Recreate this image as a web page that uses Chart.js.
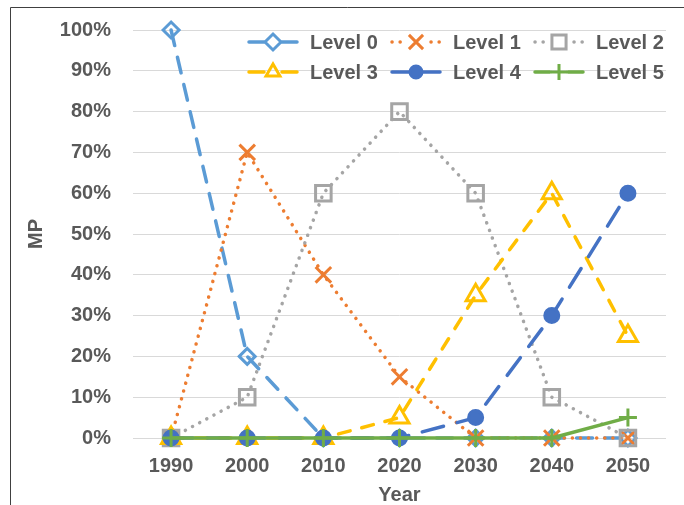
<!DOCTYPE html>
<html>
<head>
<meta charset="utf-8">
<script src="https://cdn.jsdelivr.net/npm/chart.js@4/dist/chart.umd.min.js"></script>
<style>
  html, body { margin: 0; padding: 0; background: #fff; }
  #wrap { width: 684px; height: 505px; }
</style>
</head>
<body>
<div id="wrap"><canvas id="c" width="684" height="505"></canvas></div>
<script>
// Years on the category axis
const years = ['1990', '2000', '2010', '2020', '2030', '2040', '2050'];

// Market penetration (%) for each automation level
const level0 = [100, 20, 0, 0, 0, 0, 0];
const level1 = [0, 70, 40, 15, 0, 0, 0];
const level2 = [0, 10, 60, 80, 60, 10, 0];
const level3 = [0, 0, 0, 5, 35, 60, 25];
const level4 = [0, 0, 0, 0, 5, 30, 60];
const level5 = [0, 0, 0, 0, 0, 0, 5];

const seriesNames = ['Level 0', 'Level 1', 'Level 2', 'Level 3', 'Level 4', 'Level 5'];
const yTicks = [0, 10, 20, 30, 40, 50, 60, 70, 80, 90, 100];

const FONT = '"Liberation Sans", Arial, sans-serif';
const TEXT = '#595959';

const styles = [
  { color: '#5B9BD5', dash: [16, 12], marker: 'rectRot', r: 8, fill: false },
  { color: '#ED7D31', dash: [0.1, 8], marker: 'crossRot', r: 11, fill: false },
  { color: '#A5A5A5', dash: [0.1, 8], marker: 'rect', r: 11, fill: false },
  { color: '#FFC000', dash: [12, 12], marker: 'triangle', r: 11, fill: false },
  { color: '#4472C4', dash: [22, 14], marker: 'circle', r: 7, fill: true },
  { color: '#70AD47', dash: [], marker: 'cross', r: 9, fill: false }
];
const values = [level0, level1, level2, level3, level4, level5];

const datasets = values.map((v, i) => ({
  label: seriesNames[i],
  data: v,
  borderColor: styles[i].color,
  backgroundColor: styles[i].color,
  borderWidth: 3.5,
  borderDash: styles[i].dash,
  borderCapStyle: 'round',
  borderJoinStyle: 'round',
  pointStyle: styles[i].marker,
  pointRadius: styles[i].r,
  pointHoverRadius: styles[i].r,
  pointBorderWidth: 3,
  pointBorderColor: styles[i].color,
  pointBackgroundColor: styles[i].fill ? styles[i].color : 'rgba(0,0,0,0)',
  tension: 0,
  fill: false,
  clip: false,
  order: 5 - i
}));

// Marker shapes for the legend swatches
function marker(ctx, shape, x, y, r) {
  ctx.beginPath();
  if (shape === 'circle') {
    ctx.arc(x, y, r, 0, Math.PI * 2);
  } else if (shape === 'rectRot') {
    ctx.moveTo(x, y - r); ctx.lineTo(x + r, y); ctx.lineTo(x, y + r); ctx.lineTo(x - r, y); ctx.closePath();
  } else if (shape === 'rect') {
    const s = r * Math.SQRT1_2;
    ctx.rect(x - s, y - s, 2 * s, 2 * s);
  } else if (shape === 'triangle') {
    const a = -Math.PI / 2;
    for (let k = 0; k < 3; k++) {
      const t = a + k * 2 * Math.PI / 3;
      const px = x + Math.cos(t) * r, py = y + Math.sin(t) * r;
      if (k === 0) ctx.moveTo(px, py); else ctx.lineTo(px, py);
    }
    ctx.closePath();
  } else if (shape === 'crossRot') {
    const s = r * Math.SQRT1_2;
    ctx.moveTo(x - s, y - s); ctx.lineTo(x + s, y + s);
    ctx.moveTo(x + s, y - s); ctx.lineTo(x - s, y + s);
  } else if (shape === 'cross') {
    ctx.moveTo(x, y - r); ctx.lineTo(x, y + r);
    ctx.moveTo(x - r, y); ctx.lineTo(x + r, y);
  }
}

const framePlugin = {
  id: 'frame',
  beforeDraw(chart) {
    const ctx = chart.ctx;
    ctx.save();
    ctx.fillStyle = '#fff';
    ctx.fillRect(0, 0, chart.width, chart.height);
    ctx.strokeStyle = '#404040';
    ctx.lineWidth = 1;
    ctx.beginPath();
    ctx.moveTo(10.5, chart.height);
    ctx.lineTo(10.5, 7.5);
    ctx.lineTo(chart.width, 7.5);
    ctx.stroke();
    ctx.restore();
  }
};

const legendPlugin = {
  id: 'gridLegend',
  afterDraw(chart) {
    const ctx = chart.ctx;
    const colX = [247, 390, 533];
    const rowY = [42, 72];
    ctx.save();
    ctx.font = 'bold 20px ' + FONT;
    ctx.textBaseline = 'middle';
    ctx.textAlign = 'left';
    seriesNames.forEach((name, i) => {
      const st = styles[i];
      const x0 = colX[i % 3];
      const y = rowY[Math.floor(i / 3)];
      const cx = x0 + 26;
      ctx.strokeStyle = st.color;
      ctx.fillStyle = st.color;
      ctx.lineWidth = 3.5;
      ctx.lineCap = 'round';
      const dotted = st.dash.length && st.dash[0] < 1;
      ctx.setLineDash(dotted ? [0.1, 8] : []);
      const gap = st.marker === 'circle' ? 0 : 9;
      ctx.beginPath();
      if (dotted) {
        ctx.moveTo(x0 + 2, y); ctx.lineTo(cx - gap - 2, y);
        ctx.moveTo(cx + gap + 6, y); ctx.lineTo(x0 + 52, y);
      } else {
        ctx.moveTo(x0 + 2, y); ctx.lineTo(cx - gap, y);
        ctx.moveTo(cx + gap, y); ctx.lineTo(x0 + 50, y);
      }
      ctx.stroke();
      ctx.setLineDash([]);
      ctx.lineWidth = 3;
      ctx.lineCap = 'butt';
      const mr = st.marker === 'circle' ? 6 : (st.marker === 'rect' ? 10 : (st.marker === 'crossRot' ? 10 : 8));
      marker(ctx, st.marker, cx, y, mr);
      if (st.fill) ctx.fill();
      ctx.stroke();
      ctx.fillStyle = TEXT;
      ctx.fillText(name, x0 + 63, y + 1);
    });
    ctx.restore();
  }
};

new Chart(document.getElementById('c'), {
  type: 'line',
  data: { labels: years, datasets },
  plugins: [framePlugin, legendPlugin],
  options: {
    responsive: false,
    animation: false,
    devicePixelRatio: 1,
    layout: { padding: { left: 0, right: 18, top: 30, bottom: 0 } },
    plugins: { legend: { display: false }, tooltip: { enabled: false } },
    scales: {
      x: {
        type: 'category',
        offset: true,
        grid: { display: false, drawTicks: false },
        border: { display: false },
        ticks: { color: TEXT, font: { family: FONT, size: 20, weight: 'bold' }, padding: 16, maxRotation: 0 },
        title: { display: true, text: 'Year', color: TEXT, font: { family: FONT, size: 20, weight: 'bold' }, padding: { top: 0, bottom: -2 } },
        afterFit(s) { s.height = 67; }
      },
      y: {
        min: 0,
        max: 100,
        afterBuildTicks(s) { s.ticks = yTicks.map(v => ({ value: v })); },
        grid: { color: '#D9D9D9', lineWidth: 1, drawTicks: false },
        border: { display: false },
        ticks: { color: TEXT, font: { family: FONT, size: 20, weight: 'bold' }, padding: 22, callback: v => v + '%' },
        title: { display: true, text: 'MP', color: TEXT, font: { family: FONT, size: 20, weight: 'bold' }, padding: { top: 24, bottom: 0 } },
        afterFit(s) { s.width = 133; s.paddingTop = 0; s.paddingBottom = 0; }
      }
    }
  }
});
</script>
</body>
</html>
